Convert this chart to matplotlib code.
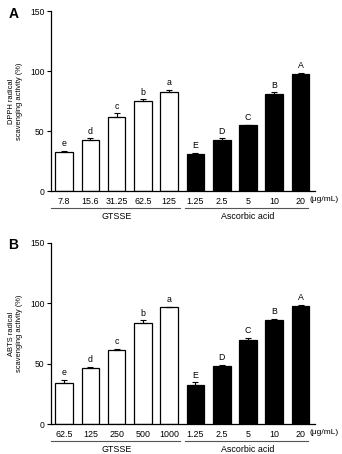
import matplotlib
matplotlib.use("Agg")
import matplotlib.pyplot as plt
from matplotlib.lines import Line2D

plt.rcParams['font.family'] = ['Liberation Sans', 'DejaVu Sans']

gtsse_a_labels = ["7.8", "15.6", "31.25", "62.5", "125"]
gtsse_b_labels = ["62.5", "125", "250", "500", "1000"]
aa_labels = ["1.25", "2.5", "5", "10", "20"]

dpph_gtsse = [32.5, 43, 62, 75, 83]
dpph_gtsse_err = [1.2, 1.2, 3.0, 1.5, 1.5]
dpph_aa = [31, 43, 55, 81, 98]
dpph_aa_err = [0.8, 1.2, 0.5, 1.5, 0.5]

abts_gtsse = [34, 46.5, 61, 84, 96.5]
abts_gtsse_err = [2.5, 1.0, 1.5, 2.0, 0.7]
abts_aa = [32.5, 48, 70, 86, 97.5]
abts_aa_err = [2.0, 1.0, 1.5, 1.0, 1.0]

low_letters = ["e", "d", "c", "b", "a"]
up_letters = ["E", "D", "C", "B", "A"]

fig = plt.figure(figsize=(3.42, 4.54), dpi=100)

def panel(rect, g_vals, g_err, a_vals, a_err, g_labels, ylabel, tag):
    ax = fig.add_axes(rect)
    n = len(g_vals)
    xg = list(range(n))
    xa = list(range(n, 2 * n))
    ekw = dict(elinewidth=0.8, capthick=0.8)
    ax.bar(xg, g_vals, width=0.67, color="white", edgecolor="black", linewidth=0.9,
           yerr=[[0] * n, g_err], capsize=2.5, error_kw=ekw, zorder=2)
    ax.bar(xa, a_vals, width=0.67, color="black", edgecolor="black", linewidth=0.9,
           yerr=[[0] * n, a_err], capsize=2.5, error_kw=ekw, zorder=2)
    for x, v, e, l in zip(xg, g_vals, g_err, low_letters):
        ax.text(x, v + e + 2.2, l, ha="center", va="bottom", fontsize=6.3)
    for x, v, e, l in zip(xa, a_vals, a_err, up_letters):
        ax.text(x, v + e + 2.2, l, ha="center", va="bottom", fontsize=6.3)
    ax.set_xlim(-0.5, 9.55)
    ax.set_ylim(0, 150)
    ax.set_yticks([0, 50, 100, 150])
    ax.set_xticks(xg + xa)
    ax.set_xticklabels(g_labels + aa_labels)
    ax.tick_params(axis="x", length=0, labelsize=6.4, pad=4)
    ax.tick_params(axis="y", length=3, width=0.8, labelsize=6.2, pad=1.5)
    for s in ["top", "right"]:
        ax.spines[s].set_visible(False)
    for s in ["left", "bottom"]:
        ax.spines[s].set_linewidth(0.9)
    ax.set_ylabel(ylabel, fontsize=5.4, linespacing=1.15)
    ax.yaxis.set_label_coords(-0.105, 0.5)
    tr = ax.get_xaxis_transform()
    ax.add_line(Line2D([-0.5, 4.4], [-0.095, -0.095], transform=tr, color="#555555",
                       linewidth=0.8, clip_on=False))
    ax.add_line(Line2D([4.59, 9.27], [-0.095, -0.095], transform=tr, color="#555555",
                       linewidth=0.8, clip_on=False))
    ax.text(2.0, -0.14, "GTSSE", transform=tr, ha="center", va="center", fontsize=6.4)
    ax.text(7.0, -0.14, "Ascorbic acid", transform=tr, ha="center", va="center", fontsize=6.4)
    ax.text(9.33, -0.047, "(μg/mL)", transform=tr, ha="left", va="center", fontsize=6.0)
    fig.text(0.025, rect[1] + rect[3] - 0.005, tag, fontsize=10, fontweight="bold",
             ha="left", va="center")
    return ax

panel([0.149, 0.579, 0.772, 0.396], dpph_gtsse, dpph_gtsse_err, dpph_aa, dpph_aa_err,
      gtsse_a_labels, "DPPH radical\nscavenging activity (%)", "A")
panel([0.149, 0.066, 0.772, 0.399], abts_gtsse, abts_gtsse_err, abts_aa, abts_aa_err,
      gtsse_b_labels, "ABTS radical\nscavenging activity (%)", "B")

fig.savefig("out.png", dpi=100)
